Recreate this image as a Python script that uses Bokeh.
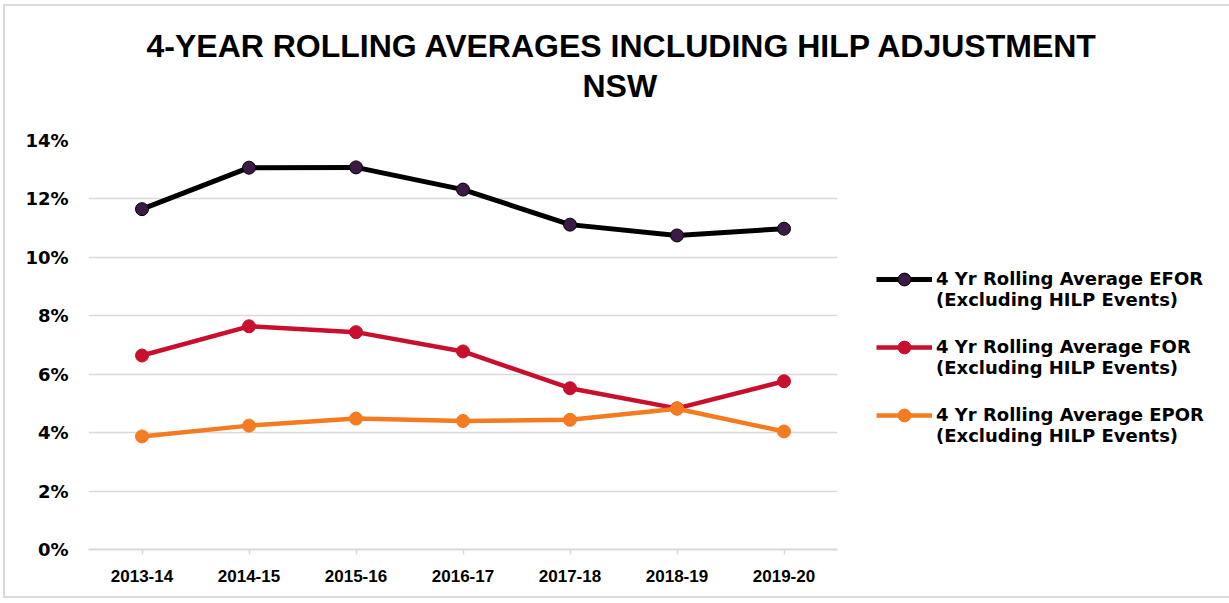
from bokeh.plotting import figure
from bokeh.models import (FactorRange, Range1d, FixedTicker, NumeralTickFormatter,
                          Legend, LegendItem, Title)
from bokeh.embed import file_html
from bokeh.resources import INLINE

years = ["2013-14", "2014-15", "2015-16", "2016-17", "2017-18", "2018-19", "2019-20"]
efor = [0.1165, 0.1307, 0.1308, 0.1232, 0.1112, 0.1075, 0.1098]
for_vals = [0.0664, 0.0764, 0.0744, 0.0678, 0.0552, 0.0483, 0.0576]
epor = [0.0387, 0.0424, 0.0448, 0.0440, 0.0444, 0.0482, 0.0404]
y_ticks = [0.0, 0.02, 0.04, 0.06, 0.08, 0.10, 0.12, 0.14]

title_main = "4-YEAR ROLLING AVERAGES INCLUDING HILP ADJUSTMENT"
title_sub = "NSW"
legend_labels = [
    "\u00a0\n4 Yr Rolling Average EFOR\n(Excluding HILP Events)",
    "\u00a0\n4 Yr Rolling Average FOR\n(Excluding HILP Events)",
    "\u00a0\n4 Yr Rolling Average EPOR\n(Excluding HILP Events)",
]

GRID = "#d9d9d9"

p = figure(x_range=FactorRange(*years, range_padding=0),
           y_range=Range1d(0, 0.14),
           frame_width=749, frame_height=409,
           min_border_left=83, min_border_right=385,
           min_border_top=134, min_border_bottom=47,
           output_backend="svg", toolbar_location=None,
           background_fill_color="white", border_fill_color="white",
           outline_line_color=None,
           styles={"border": "2px solid #d9d9d9", "margin-left": "3px",
                   "margin-top": "4px"})

# titles (first added sits nearest the frame)
p.add_layout(Title(text=title_sub, align="left", offset=494,
                   text_font="Liberation Sans", text_font_style="bold",
                   text_font_size="32px", text_color="black", standoff=74), "above")
p.add_layout(Title(text=title_main, align="left", offset=58,
                   text_font="Liberation Sans", text_font_style="bold",
                   text_font_size="32px", text_color="black", standoff=-70), "above")

# axes
p.yaxis.ticker = FixedTicker(ticks=y_ticks)
p.yaxis.formatter = NumeralTickFormatter(format="0%")
p.yaxis.axis_line_color = None
p.yaxis.major_tick_line_color = None
p.yaxis.minor_tick_line_color = None
p.yaxis.major_label_standoff = 14
p.yaxis.major_label_text_font = "DejaVu Sans"
p.yaxis.major_label_text_font_style = "bold"
p.yaxis.major_label_text_font_size = "18px"
p.yaxis.major_label_text_color = "black"

p.xaxis.axis_line_color = GRID
p.xaxis.axis_line_width = 2
p.xaxis.major_tick_line_color = GRID
p.xaxis.major_tick_line_width = 1.5
p.xaxis.major_tick_in = 0
p.xaxis.major_tick_out = 5
p.xaxis.major_label_standoff = 15
p.xaxis.major_label_text_font = "Liberation Sans"
p.xaxis.major_label_text_font_style = "bold"
p.xaxis.major_label_text_font_size = "17px"
p.xaxis.major_label_text_color = "black"

p.xgrid.grid_line_color = None
p.ygrid.grid_line_color = GRID
p.ygrid.grid_line_width = 1.5

series = [
    (efor, "#000000", "#3b1a45", "#000000", 5),
    (for_vals, "#c8102e", "#c8102e", "#c8102e", 4.5),
    (epor, "#f47b20", "#f47b20", "#f47b20", 4.5),
]

items = []
for (vals, lc, fc, oc, lw), lab in zip(series, legend_labels):
    ln = p.line(years, vals, line_color=lc, line_width=lw)
    sc = p.scatter(years, vals, size=13, fill_color=fc, line_color=oc, line_width=1)
    items.append(LegendItem(label=lab, renderers=[ln, sc]))

legend = Legend(items=items, location=(39, 103),
                label_text_font="DejaVu Sans", label_text_font_style="bold",
                label_text_font_size="18px", label_text_color="black",
                label_text_line_height=1.2,
                glyph_width=56, glyph_height=32, label_standoff=4,
                spacing=5, padding=0, margin=0,
                border_line_color=None, background_fill_alpha=0)
p.add_layout(legend, "right")

open("out.html", "w").write(file_html(p, INLINE))
